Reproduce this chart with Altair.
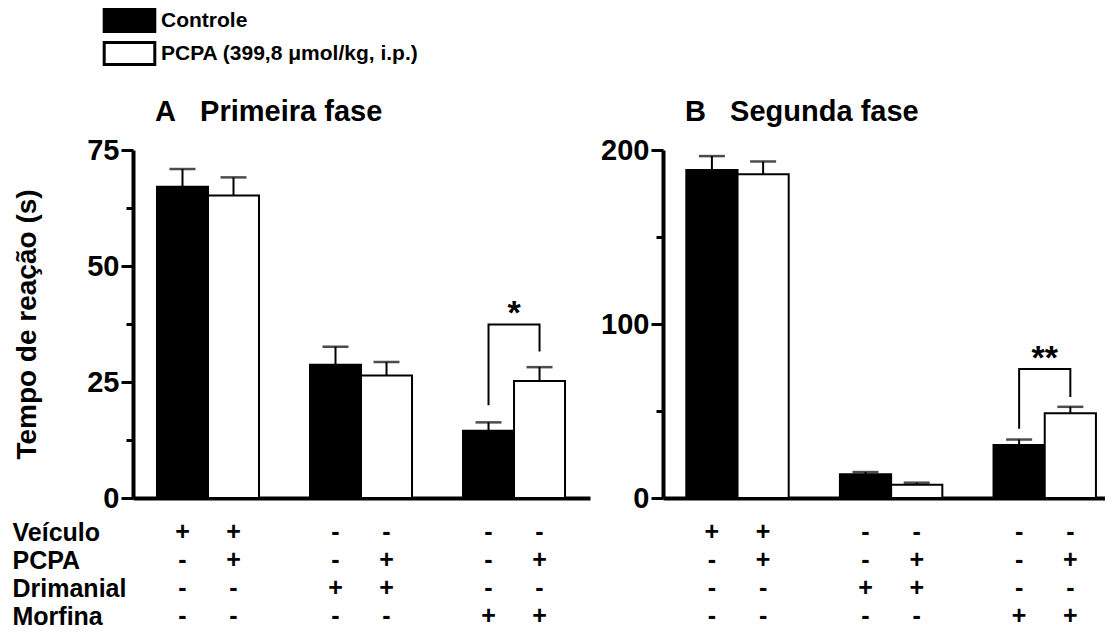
import altair as alt
import pandas as pd

# ---------------- data ----------------
groups = ["Veículo", "Drimanial", "Morfina"]
treatments = ["Controle", "PCPA (399,8 \u03bcmol/kg, i.p.)"]
treatment_keys = ["C", "P"]
table_rows = ["Veículo", "PCPA", "Drimanial", "Morfina"]

# Panel A (Primeira fase): mean and SEM, order = Veículo C/P, Drimanial C/P, Morfina C/P
a_means = [67.1, 65.2, 28.7, 26.4, 14.5, 25.2]
a_sems = [3.8, 3.9, 3.9, 2.9, 1.8, 3.0]
# Panel B (Segunda fase)
b_means = [188.5, 186.0, 13.6, 7.6, 30.5, 48.7]
b_sems = [8.0, 7.4, 1.3, 1.2, 3.1, 3.7]

veiculo_signs = ["+", "+", "-", "-", "-", "-"]
pcpa_signs = ["-", "+", "-", "+", "-", "+"]
drimanial_signs = ["-", "-", "+", "+", "-", "-"]
morfina_signs = ["-", "-", "-", "-", "+", "+"]

# significance brackets over Morfina bars: control leg bottom, top, top, PCPA leg bottom
a_bracket = [20.0, 37.4, 37.4, 31.6]
b_bracket = [39.8, 74.2, 74.2, 58.0]
a_star = "*"
b_star = "**"

a_ticks = [0, 12.5, 25, 37.5, 50, 62.5, 75]
b_ticks = [0, 50, 100, 150, 200]

# ---------------- helpers ----------------
FONT = "Liberation Sans"

bar_slots = [f"{g}|{k}" for g in groups for k in treatment_keys]
slot_domain = []
for i, g in enumerate(groups):
    slot_domain += [f"{g}|{k}" for k in treatment_keys]
    if i < len(groups) - 1:
        slot_domain.append(f"gap{i}")

sign_rows = {
    "Veículo": veiculo_signs,
    "PCPA": pcpa_signs,
    "Drimanial": drimanial_signs,
    "Morfina": morfina_signs,
}
table_df = pd.DataFrame(
    [{"slot": bar_slots[j], "row": r, "sign": s}
     for r in table_rows for j, s in enumerate(sign_rows[r])]
)

color_scale = alt.Scale(domain=treatments, range=["black", "white"])
legend = alt.Legend(
    title=None,
    orient="none",
    legendX=-16,
    legendY=-142,
    direction="vertical",
    symbolType="M-2.3,-1H2.3V1H-2.3Z",
    symbolSize=484,
    symbolStrokeWidth=3,
    symbolStrokeColor="black",
    symbolOpacity=1,
    labelFont=FONT,
    labelFontSize=21,
    labelFontWeight="bold",
    labelColor="black",
    labelOffset=19,
    labelLimit=500,
    rowPadding=-2,
    padding=0,
)


def bar_frame(means, sems):
    recs = []
    i = 0
    for g in groups:
        for t, k in zip(treatments, treatment_keys):
            recs.append({"slot": f"{g}|{k}", "treatment": t,
                         "mean": means[i], "top": means[i] + sems[i]})
            i += 1
    return pd.DataFrame(recs)


def panel(means, sems, bracket, star, ymax, ticks, major, letter, name,
          width, po, align, ytitle, show_rows):
    bars = bar_frame(means, sems)
    ctrl = f"{groups[-1]}|C"
    pcpa = f"{groups[-1]}|P"
    bracket_df = pd.DataFrame({"slot": [ctrl, ctrl, pcpa, pcpa],
                               "value": bracket, "o": [0, 1, 2, 3]})
    star_df = pd.DataFrame({"slot": [pcpa], "value": [bracket[1]], "text": [star]})

    xs = alt.Scale(domain=slot_domain, paddingInner=0, paddingOuter=po, align=align)
    xax = alt.Axis(labels=False, ticks=False, title=None, domainColor="black",
                   domainWidth=4, grid=False)
    X = alt.X("slot:N", scale=xs, axis=xax)

    ys = alt.Scale(domain=[0, ymax], nice=False, zero=True)
    ykw = dict(
        values=ticks,
        labelExpr=f"datum.value % {major} == 0 ? datum.label : ''",
        tickSize={"condition": {"test": f"datum.value % {major} != 0", "value": 7},
                  "value": 12},
        tickWidth=3, tickColor="black", domainColor="black", domainWidth=4,
        labelFontSize=29, labelFont=FONT, labelFontWeight="bold", labelColor="black",
        labelPadding=2, grid=False,
    )
    if ytitle:
        ykw.update(title=ytitle, titleFontSize=28, titleFont=FONT,
                   titleFontWeight="bold", titleColor="black", titlePadding=45)
    else:
        ykw.update(title=None)
    yax = alt.Axis(**ykw)

    bar = alt.Chart(bars).mark_bar(stroke="black", strokeWidth=2).encode(
        x=X,
        y=alt.Y("mean:Q", scale=ys, axis=yax),
        fill=alt.Fill("treatment:N", scale=color_scale, legend=legend),
    )
    err = alt.Chart(bars).mark_rule(color="black", strokeWidth=2).encode(
        x=X, y=alt.Y("mean:Q", scale=ys, axis=yax), y2="top:Q")
    cap = alt.Chart(bars).mark_tick(color="black", size=26, thickness=2.5).encode(
        x=X, y=alt.Y("top:Q", scale=ys, axis=yax))
    br = alt.Chart(bracket_df).mark_line(color="black", strokeWidth=2).encode(
        x=X, y=alt.Y("value:Q", scale=ys, axis=yax), order="o:Q")
    st = alt.Chart(star_df).mark_text(font=FONT, fontSize=34, fontWeight="bold",
                                      baseline="alphabetic", color="black").encode(
        x=alt.X("slot:N", scale=xs, axis=xax, bandPosition=0),
        y=alt.Y("value:Q", scale=ys, axis=yax),
        text="text:N")
    plot = alt.layer(bar, err, cap, br, st)

    if show_rows:
        row_axis = alt.Axis(orient="left", domain=False, ticks=False, tickSize=0,
                            labelAlign="left", labelPadding=121, labelFont=FONT,
                            labelFontSize=25, labelFontWeight="bold",
                            labelColor="black", title=None, grid=False)
    else:
        row_axis = None
    tx = alt.Chart(table_df).mark_text(font=FONT, fontSize=25, fontWeight="bold",
                                       color="black").encode(
        x=X,
        y=alt.Y("row:N", scale=alt.Scale(type="point", domain=table_rows,
                                          range=[382, 466], padding=0),
                axis=row_axis),
        text="sign:N")

    return alt.layer(plot, tx).resolve_scale(y="independent").resolve_axis(
        y="independent").properties(
        width=width, height=348,
        title=alt.TitleParams(text=f"{letter}\u00a0\u00a0\u00a0{name}", anchor="start",
                              frame="group", dx=22, dy=30, fontSize=29, font=FONT,
                              fontWeight="bold", color="black", offset=10,
                              baseline="bottom"))


pA = panel(a_means, a_sems, a_bracket, a_star, 75, a_ticks, 25, "A", "Primeira fase",
           457, 0.48, 0.49, "Tempo de reação (s)", True)
pB = panel(b_means, b_sems, b_bracket, b_star, 200, b_ticks, 100, "B", "Segunda fase",
           442, 0.316, 0.72, None, False)

chart = (
    alt.hconcat(pA, pB, spacing=10)
    .resolve_scale(color="shared")
    .resolve_legend(color="shared")
    .properties(padding={"left": 4, "top": 0, "right": 0, "bottom": 0})
    .configure_view(stroke=None)
)

chart.save("out.html", embed_options={"renderer": "svg", "actions": False})
